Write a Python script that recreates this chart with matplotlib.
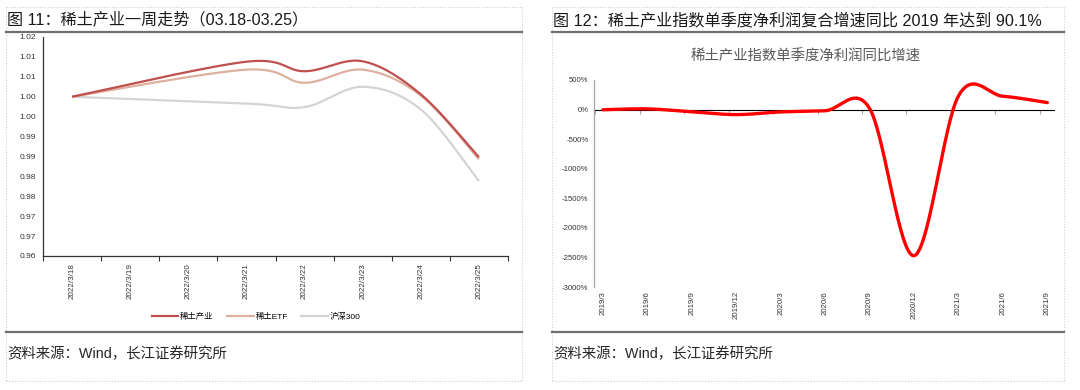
import matplotlib
matplotlib.use("Agg")
import matplotlib.pyplot as plt
from matplotlib.lines import Line2D
import numpy as np

plt.rcParams['font.family'] = ['Liberation Sans', 'Noto Sans CJK SC', 'DejaVu Sans']

# ---- data, left chart (one week, rare earth) ----
day_labels = ["2022/3/18", "2022/3/19", "2022/3/20", "2022/3/21",
              "2022/3/22", "2022/3/23", "2022/3/24", "2022/3/25"]
trade_days = [0, 3, 4, 5, 6, 7]          # index into day_labels
rare_earth = [1.000, 1.0088, 1.0064, 1.0089, 1.0006, 0.9848]
rare_etf = [1.000, 1.0068, 1.0035, 1.0068, 1.0003, 0.9843]
hs300 = [1.000, 0.9983, 0.9974, 1.0025, 0.9968, 0.9788]
left_yticks = [0.96, 0.965, 0.97, 0.975, 0.98, 0.985, 0.99, 0.995, 1.0, 1.005, 1.01, 1.015]
left_ylabels = ["0.96", "0.97", "0.97", "0.98", "0.98", "0.99", "0.99", "1.00", "1.00", "1.01", "1.01", "1.02"]
legend_names = ["稀土产业", "稀土ETF", "沪深300"]

# ---- data, right chart (quarterly net profit yoy, %) ----
quarters = ["2019/3", "2019/6", "2019/9", "2019/12", "2020/3", "2020/6",
            "2020/9", "2020/12", "2021/3", "2021/6", "2021/9"]
profit_yoy = [-3, 12, -38, -85, -40, -20, 20, -2470, 230, 225, 118]
right_yticks = [500, 0, -500, -1000, -1500, -2000, -2500, -3000]

W, H = 1080, 390


def fx(px):
    return px / W


def fy(py):
    return 1 - py / H


def smooth(x, y, n=40):
    # excel-like smoothed line (catmull-rom as bezier)
    p = np.column_stack([np.asarray(x, float), np.asarray(y, float)])
    ext = np.vstack([p[0], p, p[-1]])
    out = []
    t = np.linspace(0, 1, n)[:, None]
    for i in range(len(p) - 1):
        p0, p1, p2, p3 = ext[i], ext[i + 1], ext[i + 2], ext[i + 3]
        c1 = p1 + (p2 - p0) / 6
        c2 = p2 - (p3 - p1) / 6
        seg = (1 - t) ** 3 * p1 + 3 * (1 - t) ** 2 * t * c1 + 3 * (1 - t) * t ** 2 * c2 + t ** 3 * p2
        out.append(seg if i == 0 else seg[1:])
    out = np.vstack(out)
    return out[:, 0], out[:, 1]


fig = plt.figure(figsize=(W / 100, H / 100), dpi=100)

# panel frames: dotted cell borders and the dark rules
dot = dict(color="#cfcfcf", lw=0.8, ls=(0, (1, 1.5)), transform=fig.transFigure)
for x0, x1 in [(6, 522), (552, 1064)]:
    for yy in [7, 381]:
        fig.add_artist(Line2D([fx(x0), fx(x1)], [fy(yy), fy(yy)], **dot))
    for xx in [x0, x1]:
        fig.add_artist(Line2D([fx(xx), fx(xx)], [fy(7), fy(381)], **dot))
    for yy in [32, 332]:
        fig.add_artist(Line2D([fx(x0), fx(x1)], [fy(yy), fy(yy)], color="#707070", lw=1.6,
                              transform=fig.transFigure))

fig.text(fx(7), fy(19), "图 11：稀土产业一周走势（03.18-03.25）", fontsize=11.6,
         va="center", ha="left", color="#1a1a1a")
fig.text(fx(553), fy(20), "图 12：稀土产业指数单季度净利润复合增速同比 2019 年达到 90.1%", fontsize=11.6,
         va="center", ha="left", color="#1a1a1a")
fig.text(fx(7), fy(354), "资料来源：Wind，长江证券研究所", fontsize=10.4, va="center", ha="left", color="#262626")
fig.text(fx(553), fy(354), "资料来源：Wind，长江证券研究所", fontsize=10.4, va="center", ha="left", color="#262626")

# ---- left chart ----
ax = fig.add_axes([fx(43), fy(256), fx(508) - fx(43), fy(37) - fy(256)])
colors = ["#c0504d", "#deb0a0", "#d4d4d4"]
handles = []
for vals, c, name, z in zip([rare_earth, rare_etf, hs300], colors, legend_names, [3, 2, 1]):
    sx, sy = smooth(trade_days, vals)
    ax.plot(sx, sy, color=c, lw=1.6, zorder=z, solid_capstyle="butt")
    handles.append(Line2D([], [], color=c, lw=1.6, label=name))
ax.set_xlim(-0.5, 7.5)
ax.set_ylim(0.96, 1.015)
ax.set_xticks(range(len(day_labels)))
ax.set_xticklabels(day_labels, rotation=90, fontsize=5.8, color="#333333")
ax.set_xticks(np.arange(-0.5, 8, 1), minor=True)
ax.tick_params(axis="x", which="major", length=0, pad=5)
ax.tick_params(axis="x", which="minor", length=3.5, direction="out", color="#333333", width=0.8)
ax.set_yticks(left_yticks)
ax.set_yticklabels(left_ylabels, fontsize=6, color="#333333")
ax.set_yticks([1.015], minor=True)
ax.tick_params(axis="y", which="major", length=0, pad=5)
ax.tick_params(axis="y", which="minor", length=3, direction="in", color="#333333", width=0.8)
for s in ["top", "right"]:
    ax.spines[s].set_visible(False)
for s in ["left", "bottom"]:
    ax.spines[s].set_color("#333333")
    ax.spines[s].set_linewidth(0.9)
fig.legend(handles=handles, loc="center", bbox_to_anchor=(fx(256), fy(317)), ncol=3, frameon=False,
           fontsize=6, handlelength=3.2, handletextpad=0.2, columnspacing=1.6)

# ---- right chart ----
fig.text(fx(806), fy(57), "稀土产业指数单季度净利润同比增速", fontsize=10.4, color="#595959",
         ha="center", va="center")
ax2 = fig.add_axes([fx(594), fy(287), fx(1054) - fx(594), fy(80) - fy(287)])
xs = np.arange(len(quarters))
sx, sy = smooth(xs, profit_yoy, n=60)
ax2.plot(sx, sy, color="#ff0000", lw=2.4, zorder=3, solid_capstyle="round")
ax2.set_xlim(-0.2, 10.15)
ax2.set_ylim(-3000, 500)
ax2.set_yticks(right_yticks)
ax2.set_yticklabels([f"{v}%" for v in right_yticks], fontsize=5.6, color="#333333")
ax2.set_yticks([500, -3000], minor=True)
ax2.tick_params(axis="y", which="major", length=0, pad=4)
ax2.tick_params(axis="y", which="minor", length=3, direction="in", color="#999999", width=0.8)
ax2.set_xticks(xs)
ax2.set_xticklabels(quarters, rotation=90, fontsize=5.6, color="#333333")
ax2.tick_params(axis="x", which="major", length=0, pad=3)
for s in ["top", "right", "bottom"]:
    ax2.spines[s].set_visible(False)
ax2.spines["left"].set_color("#a6a6a6")
ax2.spines["left"].set_linewidth(0.9)
zero = ax2.secondary_xaxis(3000 / 3500)
zero.spines["bottom"].set_color("#a6a6a6")
zero.spines["bottom"].set_linewidth(0.9)
zero.set_xticks(xs - 0.17)
zero.set_xticklabels([])
zero.tick_params(axis="x", length=3, direction="in", color="#a6a6a6", width=0.8)

fig.savefig("out.png", dpi=100)
